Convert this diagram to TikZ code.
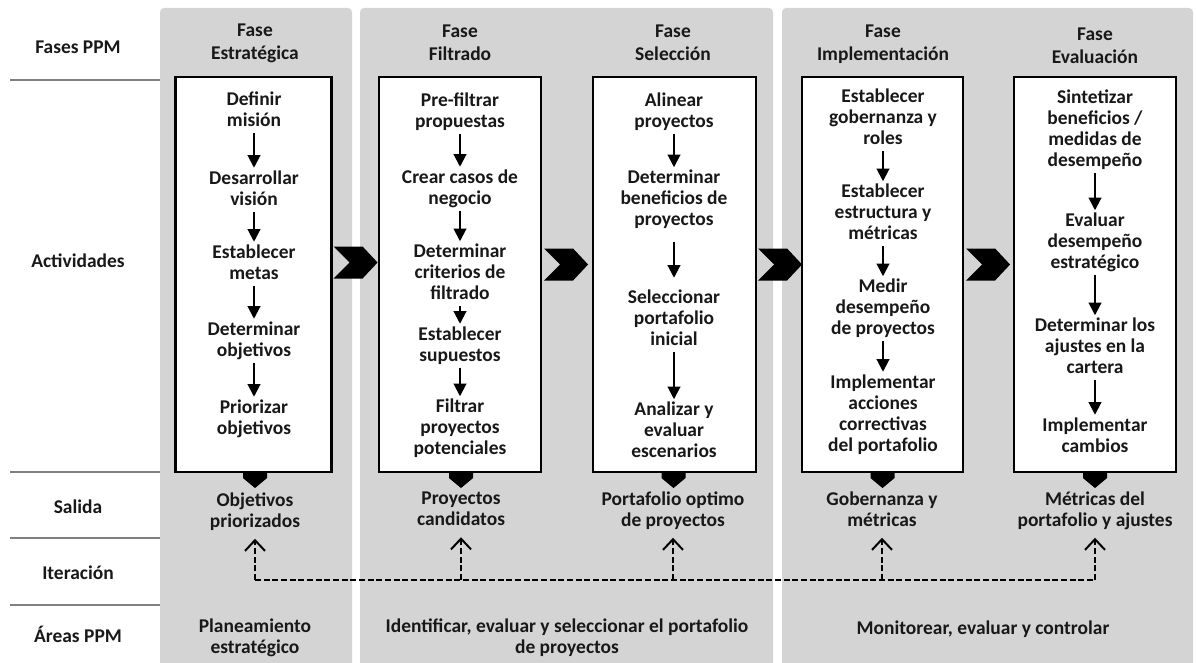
\documentclass[tikz,border=0pt]{standalone}
\usepackage{fontspec}
\setmainfont{Carlito}
\usetikzlibrary{arrows.meta}
\newdimen\pxu \pxu=0.75pt
\definecolor{panelgray}{RGB}{212,212,212}
\definecolor{ink}{RGB}{24,24,24}
\definecolor{rulegray}{RGB}{128,128,128}

\begin{document}
\begin{tikzpicture}[x=0.75pt,y=-0.75pt,
  txt/.style={font=\bfseries\fontsize{14.6}{15.75}\selectfont, text=ink, align=center,
    inner sep=0pt, execute at begin node=\strut, execute at end node=\strut},
  head/.style={font=\bfseries\fontsize{14.6}{17.25}\selectfont, text=ink, align=center,
    inner sep=0pt, execute at begin node=\strut, execute at end node=\strut},
  actbox/.style={draw=black, fill=white, line width=1.6pt, inner sep=0pt},
  flow/.style={draw=black, line width=1.5pt, shorten >=2.5\pxu,
    -{Triangle[width=9.5pt,length=9.5pt]}},
  iter/.style={draw=black, line width=1.5pt, dash pattern=on 4.5pt off 2pt},
  iterarrow/.style={iter, shorten >=5\pxu,
    -{Straight Barb[length=8pt,width=15pt,line width=1.5pt]}},
  sidebar/.style={draw=rulegray, line width=1.7pt},
  chev/.pic={\fill[black] (0,-16) -- (29,-16) -- (44,0) -- (29,16) -- (0,16) -- (16,0) -- cycle;},
  outptr/.pic={\fill[black] (-12,0) -- (12,0) -- (12,5) -- (0,15) -- (-12,5) -- cycle;}
]
\useasboundingbox (0,0) rectangle (1196,663);

% grey phase panels
\fill[panelgray, rounded corners=4\pxu] (160,8) rectangle (352,690);
\fill[panelgray, rounded corners=4\pxu] (360,8) rectangle (773,690);
\fill[panelgray, rounded corners=4\pxu] (782,8) rectangle (1193,690);

% row separators on the left
\draw[sidebar] (10,80) -- (160,80);
\draw[sidebar] (10,472) -- (160,472);
\draw[sidebar] (10,538) -- (160,538);
\draw[sidebar] (10,605) -- (160,605);

% row labels
\node[txt] (lfases) at (78,49) {Fases PPM};
\node[txt] (lact) at (78,263) {Actividades};
\node[txt] (lsal) at (78,509) {Salida};
\node[txt] (lite) at (78,575) {Iteración};
\node[txt] (lare) at (78,637) {Áreas PPM};

% phase headers
\node[head] (h1) at (255,45) {Fase\\Estratégica};
\node[head] (h2) at (460,46.5) {Fase\\Filtrado};
\node[head] (h3) at (673,46.5) {Fase\\Selección};
\node[head] (h4) at (883,46.5) {Fase\\Implementación};
\node[head] (h5) at (1095,49) {Fase\\Evaluación};

% activity boxes
\node[actbox, minimum width=156\pxu, minimum height=395\pxu] (b1) at (253.5,274.5) {};
\node[actbox, minimum width=162\pxu, minimum height=395\pxu] (b2) at (460,274.5) {};
\node[actbox, minimum width=163\pxu, minimum height=395\pxu] (b3) at (674.5,274.5) {};
\node[actbox, minimum width=161\pxu, minimum height=395\pxu] (b4) at (882.5,274.5) {};
\node[actbox, minimum width=162\pxu, minimum height=395\pxu] (b5) at (1095,274.5) {};

% chevrons between phases
\pic at ([shift={(1,-12)}]b1.east) {chev};
\pic at ([shift={(2,-10)}]b2.east) {chev};
\pic at ([shift={(1,-10)}]b3.east) {chev};
\pic at ([shift={(2,-10)}]b4.east) {chev};

% output pointers
\pic at ([xshift=1.5\pxu]b1.south) {outptr};
\pic at ([xshift=1\pxu]b2.south) {outptr};
\pic at ([xshift=-1\pxu]b3.south) {outptr};
\pic at (b4.south) {outptr};
\pic at (b5.south) {outptr};

% estrategica
\node[txt] (a11) at (254,112) {Definir\\misión};
\node[txt] (a12) at (254,191) {Desarrollar\\visión};
\node[txt] (a13) at (254,265) {Establecer\\metas};
\node[txt] (a14) at (254,342) {Determinar\\objetivos};
\node[txt] (a15) at (254,420) {Priorizar\\objetivos};
\draw[flow] (a11) -- (a12);
\draw[flow] (a12) -- (a13);
\draw[flow] (a13) -- (a14);
\draw[flow] (a14) -- (a15);

% filtrado
\node[txt] (a21) at (460,113) {Pre-filtrar\\propuestas};
\node[txt] (a22) at (460,190) {Crear casos de\\negocio};
\node[txt] (a23) at (460,275) {Determinar\\criterios de\\filtrado};
\node[txt] (a24) at (460,347) {Establecer\\supuestos};
\node[txt] (a25) at (460,430) {Filtrar\\proyectos\\potenciales};
\draw[flow] (a21) -- (a22);
\draw[flow] (a22) -- (a23);
\draw[flow] (a23) -- (a24);
\draw[flow] (a24) -- (a25);

% seleccion
\node[txt] (a31) at (674,113) {Alinear\\proyectos};
\node[txt] (a32) at (674,201) {Determinar\\beneficios de\\proyectos};
\node[txt] (a33) at (674,321) {Seleccionar\\portafolio\\inicial};
\node[txt] (a34) at (674,433) {Analizar y\\evaluar\\escenarios};
\draw[flow] (a31) -- (a32);
\draw[flow, shorten <=10\pxu, shorten >=12\pxu] (a32) -- (a33);
\draw[flow] (a33) -- (a34);

% implementacion
\node[txt] (a41) at (883,120) {Establecer\\gobernanza y\\roles};
\node[txt] (a42) at (883,215) {Establecer\\estructura y\\métricas};
\node[txt] (a43) at (883,310) {Medir\\desempeño\\de proyectos};
\node[txt] (a44) at (883,416) {Implementar\\acciones\\correctivas\\del portafolio};
\draw[flow] (a41) -- (a42);
\draw[flow] (a42) -- (a43);
\draw[flow] (a43) -- (a44);

% evaluacion
\node[txt] (a51) at (1095,131) {Sintetizar\\beneficios /\\medidas de\\desempeño};
\node[txt] (a52) at (1095,244) {Evaluar\\desempeño\\estratégico};
\node[txt] (a53) at (1095,349) {Determinar los\\ajustes en la\\cartera};
\node[txt] (a54) at (1095,438) {Implementar\\cambios};
\draw[flow] (a51) -- (a52);
\draw[flow] (a52) -- (a53);
\draw[flow] (a53) -- (a54);

% outputs
\node[txt] (o1) at (255,513) {Objetivos\\priorizados};
\node[txt] (o2) at (461,512) {Proyectos\\candidatos};
\node[txt] (o3) at (673,512) {Portafolio optimo\\de proyectos};
\node[txt] (o4) at (882,512) {Gobernanza y\\métricas};
\node[txt] (o5) at (1095,512) {Métricas del\\portafolio y ajustes};

% iteration loop
\coordinate (i1) at (o1.south |- 0,580);
\coordinate (i2) at (o2.south |- 0,580);
\coordinate (i3) at (o3.south |- 0,580);
\coordinate (i4) at (o4.south |- 0,580);
\coordinate (i5) at (o5.south |- 0,580);
\draw[iter] (i1) -- (i5);
\draw[iterarrow] (i1) -- (o1);
\draw[iterarrow] (i2) -- (o2);
\draw[iterarrow] (i3) -- (o3);
\draw[iterarrow] (i4) -- (o4);
\draw[iterarrow] (i5) -- (o5);

% PPM areas
\node[txt] (r1) at (255,639) {Planeamiento\\estratégico};
\node[txt] (r2) at (567,639) {Identificar, evaluar y seleccionar el portafolio\\de proyectos};
\node[txt] (r3) at (983,630) {Monitorear, evaluar y controlar};
\end{tikzpicture}
\end{document}
